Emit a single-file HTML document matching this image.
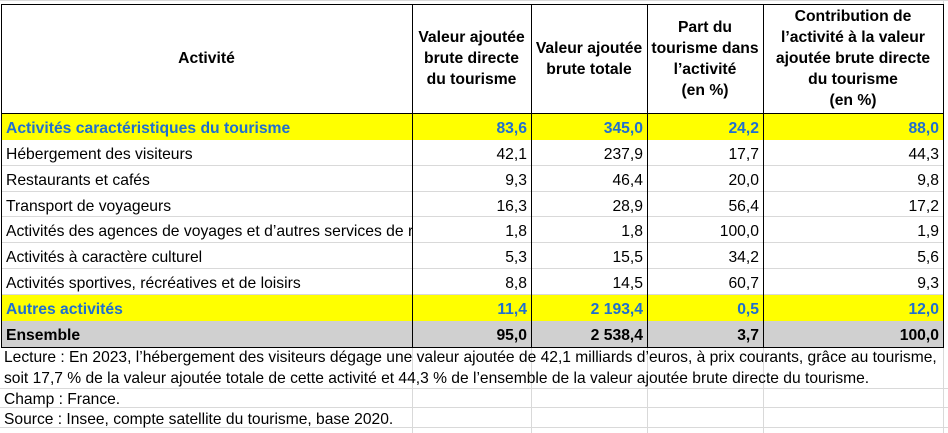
<!DOCTYPE html>
<html><head><meta charset="utf-8"><style>
body{margin:0;width:948px;height:433px;overflow:hidden;background:#fff;font-family:"Liberation Sans",Arial,sans-serif;position:relative}
.a{position:absolute;box-sizing:border-box}
.g{background:#d9d9d9}
.cell{position:absolute;box-sizing:border-box;font-size:15.7px;white-space:nowrap;overflow:hidden;color:#000}
.hd{font-weight:bold;text-align:center;display:flex;align-items:center;justify-content:center;white-space:nowrap;font-size:15.7px;line-height:21px}
.num{text-align:right;padding-right:4px}
.lab{padding-left:5px}
.hi{color:#1f6fd0;font-weight:bold}
.b{font-weight:bold}
.foot{position:absolute;left:4px;font-size:15.6px;line-height:21px;white-space:nowrap}
</style></head><body>
<div class="a g" style="left:0;top:0;width:948px;height:1px"></div>
<div class="a g" style="left:943px;top:0;width:1px;height:433px"></div>
<div class="a g" style="left:0;top:388px;width:948px;height:1px"></div>
<div class="a g" style="left:0;top:407px;width:948px;height:1px"></div>
<div class="a g" style="left:0;top:427px;width:948px;height:1px"></div>
<div class="a g" style="left:412px;top:348px;width:1px;height:85px"></div>
<div class="a g" style="left:531px;top:348px;width:1px;height:85px"></div>
<div class="a g" style="left:647px;top:348px;width:1px;height:85px"></div>
<div class="a g" style="left:763px;top:348px;width:1px;height:85px"></div>

<div id="tbl"></div>
<div class="foot" style="top:347px">Lecture : En 2023, l’hébergement des visiteurs dégage une valeur ajoutée de 42,1 milliards d’euros, à prix courants, grâce au tourisme,</div>
<div class="foot" style="top:368px">soit 17,7 % de la valeur ajoutée totale de cette activité et 44,3 % de l’ensemble de la valeur ajoutée brute directe du tourisme.</div>
<div class="foot" style="top:389px">Champ : France.</div>
<div class="foot" style="top:409px">Source : Insee, compte satellite du tourisme, base 2020.</div>
<script>
const cols=[1,412,531,647,763,943];
const headers=[["Activité"],["Valeur ajoutée","brute directe","du tourisme"],["Valeur ajoutée","brute totale"],["Part du","tourisme dans","l’activité","(en %)"],["Contribution de","l’activité à la valeur","ajoutée brute directe","du tourisme","(en %)"]];
const labels=["Activités caractéristiques du tourisme","Hébergement des visiteurs","Restaurants et cafés","Transport de voyageurs","Activités des agences de voyages et d’autres services de réservation","Activités à caractère culturel","Activités sportives, récréatives et de loisirs","Autres activités","Ensemble"];
const vaDirecte=["83,6","42,1","9,3","16,3","1,8","5,3","8,8","11,4","95,0"];
const vaTotale=["345,0","237,9","46,4","28,9","1,8","15,5","14,5","2 193,4","2 538,4"];
const part=["24,2","17,7","20,0","56,4","100,0","34,2","60,7","0,5","3,7"];
const contrib=["88,0","44,3","9,8","17,2","1,9","5,6","9,3","12,0","100,0"];
const kinds=["hi","","","","","","","hi","tot"];
const rowY=[113,140,166,192,217,243,269,295,321,347];
const T=document.getElementById('tbl');
function div(cls,l,t,w,h,css){const d=document.createElement('div');d.className=cls;d.style.cssText=`left:${l}px;top:${t}px;width:${w}px;height:${h}px;`+(css||'');T.appendChild(d);return d;}
for(let c=0;c<5;c++){
 const d=div('cell hd',cols[c],4,cols[c+1]-cols[c],109);
 const inner=document.createElement('div');
 headers[c].forEach((t,i)=>{if(i)inner.appendChild(document.createElement('br'));inner.appendChild(document.createTextNode(t));});
 d.appendChild(inner);
 
 
}
const series=[vaDirecte,vaTotale,part,contrib];
for(let r=0;r<labels.length;r++){
 const y=rowY[r],h=rowY[r+1]-y,k=kinds[r];
 const bg=k==='hi'?'#ffff00':k==='tot'?'#d0d0d0':'';
 if(bg){const b=div('a',1,y,942,h,'background:'+bg);}
 else{const gl=div('a',1,y+h-1,942,1,'background:#d9d9d9');}
 const cls=k==='hi'?' hi':k==='tot'?' b':'';
 const L=div('cell lab'+cls,cols[0],y+2,cols[1]-cols[0],h-2,`line-height:${h}px`);
 L.textContent=labels[r];
 
 
 for(let c=0;c<4;c++){
  const d=div('cell num'+cls,cols[c+1],y+2,cols[c+2]-cols[c+1],h-2,`line-height:${h}px`);
  d.textContent=series[c][r];
  
  
 }
}
const lines=[[1,4,942,1],[1,113,942,1],[1,347,942,1]];
cols.forEach(x=>lines.push([x,4,1,344]));
lines.forEach(([l,t,w,h])=>{const d=div('a',l,t,w,h,'background:#000');});
</script>
</body></html>
